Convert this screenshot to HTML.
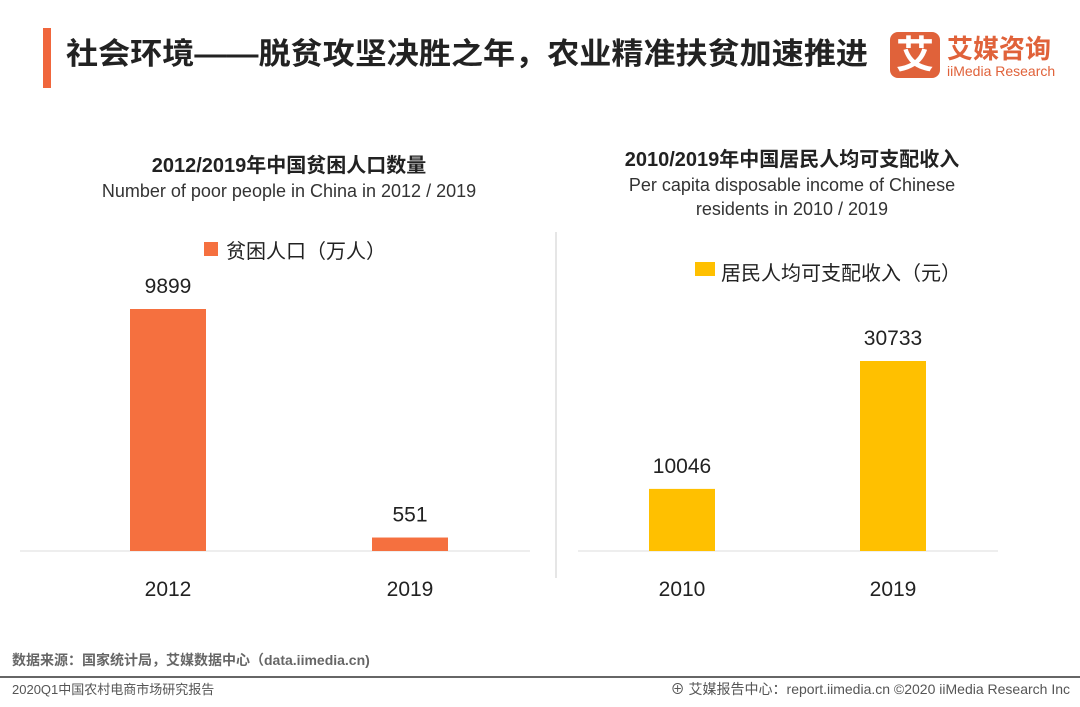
<!DOCTYPE html>
<html><head><meta charset="utf-8"><style>
body{margin:0;width:1080px;height:702px;background:#fff;overflow:hidden;font-family:"Liberation Sans","Noto Sans CJK SC",sans-serif;}
svg text{font-family:"Liberation Sans","Noto Sans CJK SC",sans-serif;}
</style></head><body>
<svg id="s" width="1080" height="702">
<rect x="43" y="28" width="8" height="60" fill="#f0663c"/>
<text x="66" y="64" font-size="30" font-weight="bold" fill="#222" textLength="802" lengthAdjust="spacingAndGlyphs">社会环境——脱贫攻坚决胜之年，农业精准扶贫加速推进</text>
<g>
<rect x="890" y="32" width="50" height="46" rx="8" fill="#e0623a"/>
<text x="915" y="68" font-size="38" font-weight="bold" fill="#fff" text-anchor="middle">艾</text>
<text x="947" y="58" font-size="26" font-weight="bold" fill="#e0623a">艾媒咨询</text>
<text x="947" y="76" font-size="14" fill="#e0623a">iiMedia Research</text>
</g>
<text x="289" y="172" font-size="20" font-weight="bold" fill="#222" text-anchor="middle">2012/2019年中国贫困人口数量</text>
<text x="289" y="197" font-size="18" fill="#333" text-anchor="middle">Number of poor people in China in 2012 / 2019</text>
<text x="792" y="166" font-size="20" font-weight="bold" fill="#222" text-anchor="middle">2010/2019年中国居民人均可支配收入</text>
<text x="792" y="191" font-size="18" fill="#333" text-anchor="middle">Per capita disposable income of Chinese</text>
<text x="792" y="215" font-size="18" fill="#333" text-anchor="middle">residents in 2010 / 2019</text>
<rect x="204" y="242" width="14" height="14" fill="#f5703f"/>
<text x="226" y="258" font-size="20" fill="#222">贫困人口（万人）</text>
<rect x="695" y="262" width="20" height="14" fill="#ffc000"/>
<text x="721" y="280" font-size="20" fill="#222">居民人均可支配收入（元）</text>
<line x1="556" y1="232" x2="556" y2="578" stroke="#ccc"/>
<line x1="20" y1="551" x2="530" y2="551" stroke="#ddd"/>
<line x1="578" y1="551" x2="998" y2="551" stroke="#ddd"/>
<g id="lb"></g><g id="rb"></g>
<text x="12" y="665" font-size="14" font-weight="bold" fill="#666">数据来源：国家统计局，艾媒数据中心（data.iimedia.cn)</text>
<line x1="0" y1="677" x2="1080" y2="677" stroke="#666" stroke-width="2"/>
<text x="12" y="694" font-size="13" fill="#555">2020Q1中国农村电商市场研究报告</text>
<text x="1070" y="694" font-size="14" fill="#555" text-anchor="end">⊕ 艾媒报告中心：report.iimedia.cn  ©2020  iiMedia Research  Inc</text>
</svg>
<script>
const leftCats=["2012","2019"];
const leftVals=[9899,551];
const rightCats=["2010","2019"];
const rightVals=[10046,30733];
const NS="http://www.w3.org/2000/svg";
function mk(t,a,p){const e=document.createElementNS(NS,t);for(const k in a)e.setAttribute(k,a[k]);p.appendChild(e);return e;}
function draw(g,cats,vals,o){
 const yS=v=>o.base-v*o.k;
 cats.forEach((c,i)=>{
  const cx=o.x0+i*o.step;
  const r=mk('rect',{x:cx-o.w/2,y:yS(vals[i]),width:o.w,height:o.base-yS(vals[i]),fill:o.color},g);
  
  
  const v=mk('text',{x:cx,y:yS(vals[i])-16,'font-size':21,fill:'#222','text-anchor':'middle'},g);v.textContent=vals[i];
  
  
  const l=mk('text',{x:cx,y:o.ly,'font-size':21,fill:'#222','text-anchor':'middle'},g);l.textContent=c;
  
  
 });
}
draw(document.getElementById('lb'),leftCats,leftVals,{x0:168,step:242,w:76,base:551,k:242/9899,color:'#f5703f',ly:596});
draw(document.getElementById('rb'),rightCats,rightVals,{x0:682,step:211,w:66,base:551,k:190/30733,color:'#ffc000',ly:596});
</script>
</body></html>
